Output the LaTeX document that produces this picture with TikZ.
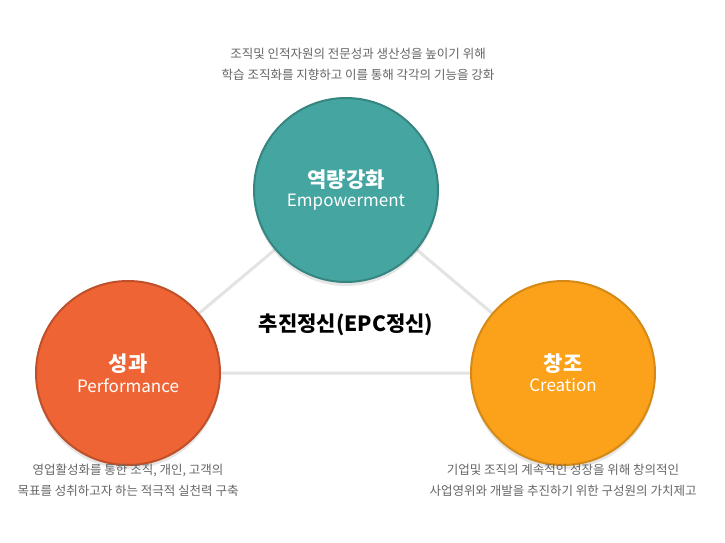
\documentclass[tikz,border=0pt]{standalone}
\usepackage{fontspec}
\setmainfont{Noto Sans CJK KR}
\usetikzlibrary{shadows}
\definecolor{teal}{HTML}{45A6A1}
\definecolor{red}{HTML}{EF6435}
\definecolor{orng}{HTML}{FBA11A}
\definecolor{gline}{HTML}{E3E3E3}
\definecolor{small}{HTML}{666666}
\tikzset{
 ball/.style={circle,minimum size=184pt,inner sep=0pt,text=white,align=center,
   drop shadow={shadow xshift=0pt,shadow yshift=-4pt,opacity=0.2}},
 desc/.style={text=small,font=\fontsize{12.5}{21}\selectfont,align=center},
 lnk/.style={draw=gline,line width=3pt}
}
\begin{document}
\begin{tikzpicture}[x=1pt,y=-1pt]
\useasboundingbox[fill=white] (0,0) rectangle (725,542);
\coordinate (ct) at (346,190);
\coordinate (cl) at (128,373);
\coordinate (cr) at (563,373);
\draw[lnk] (ct) -- (cl) -- (cr) -- cycle;
\node[ball,fill=teal,draw=teal!80!black,line width=2pt] (e) at (ct) {{\fontsize{21}{26}\selectfont\bfseries 역량강화}\\[4pt]{\fontsize{17}{20}\selectfont Empowerment}};
\node[ball,fill=red,draw=red!80!black,line width=2pt] (p) at (cl) {{\fontsize{21}{26}\selectfont\bfseries 성과}\\[4pt]{\fontsize{17}{20}\selectfont Performance}};
\node[ball,fill=orng,draw=orng!85!black,line width=2pt] (c) at (cr) {{\fontsize{21}{26}\selectfont\bfseries 창조}\\[4pt]{\fontsize{17}{20}\selectfont Creation}};
\node[font=\fontsize{21}{24}\selectfont\bfseries] (m) at (346,325) {추진정신(EPC정신)};
\node[desc] (de) at (358,64) {조직및 인적자원의 전문성과 생산성을 높이기 위해\\학습 조직화를 지향하고 이를 통해 각각의 기능을 강화};
\node[desc] (dp) at (128,480) {영업활성화를 통한 조직, 개인, 고객의\\목표를 성취하고자 하는 적극적 실천력 구축};
\node[desc] (dc) at (563,480) {기업및 조직의 계속적인 성장을 위해 창의적인\\사업영위와 개발을 추진하기 위한 구성원의 가치제고};
\end{tikzpicture}
\end{document}
